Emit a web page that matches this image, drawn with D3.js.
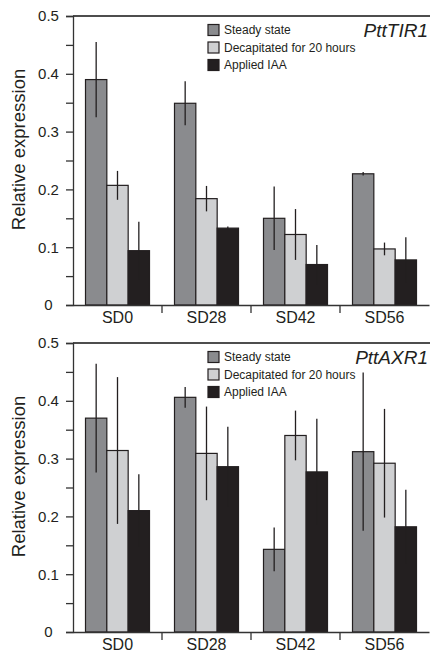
<!DOCTYPE html>
<html>
<head>
<meta charset="utf-8">
<script src="https://cdn.jsdelivr.net/npm/d3@7"></script>
<style>
  body { margin: 0; background: #fff; }
  svg { display: block; font-family: "Liberation Sans", Arial, Helvetica, sans-serif; }
</style>
</head>
<body>
<svg id="chart" width="430" height="652"></svg>
<script>
var width = 430,
    height = 652;

const categories = ["SD0", "SD28", "SD42", "SD56"];
const series = ["Steady state", "Decapitated for 20 hours", "Applied IAA"];
const colors = ["#8a8b8e", "#cfd0d2", "#231f20"];
const yTicks = [0, 0.05, 0.1, 0.15, 0.2, 0.25, 0.3, 0.35, 0.4, 0.45, 0.5];

// PttTIR1 means and errors, one array per series (SD0, SD28, SD42, SD56)
const tir1Steady = [0.390, 0.349, 0.150, 0.227];
const tir1SteadyErr = [0.065, 0.038, 0.055, 0.003];
const tir1Decap = [0.207, 0.184, 0.122, 0.097];
const tir1DecapErr = [0.025, 0.022, 0.044, 0.011];
const tir1Iaa = [0.094, 0.133, 0.070, 0.078];
const tir1IaaErr = [0.050, 0.003, 0.034, 0.039];

// PttAXR1
const axr1Steady = [0.370, 0.406, 0.143, 0.312];
const axr1SteadyErr = [0.094, 0.018, 0.038, 0.137];
const axr1Decap = [0.314, 0.309, 0.340, 0.292];
const axr1DecapErr = [0.127, 0.081, 0.043, 0.094];
const axr1Iaa = [0.210, 0.286, 0.277, 0.182];
const axr1IaaErr = [0.063, 0.069, 0.092, 0.064];

const panels = [
    { gene: "PttTIR1", top: 16, bottom: 305,
      means: [tir1Steady, tir1Decap, tir1Iaa], errs: [tir1SteadyErr, tir1DecapErr, tir1IaaErr] },
    { gene: "PttAXR1", top: 343, bottom: 632,
      means: [axr1Steady, axr1Decap, axr1Iaa], errs: [axr1SteadyErr, axr1DecapErr, axr1IaaErr] }
];

const left = 73, right = 430;
const svg = d3.select("#chart");

var x0 = d3.scaleBand().domain(categories).range([left, left + 89 * 4]);
var x1 = d3.scaleBand().domain(series).range([12.5, x0.bandwidth() - 12.5]);

panels.forEach(function (p) {
    var y = d3.scaleLinear().domain([0, 0.5]).range([p.bottom, p.top]);
    var g = svg.append("g");

    // flatten to rows
    var rows = [];
    categories.forEach(function (c, i) {
        series.forEach(function (s, j) {
            rows.push({ cat: c, s: s, j: j, v: p.means[j][i], e: p.errs[j][i] });
        });
    });

    // top frame line
    g.append("line")
        .attr("x1", left).attr("x2", right)
        .attr("y1", p.top).attr("y2", p.top)
        .attr("stroke", "#4d4d4d").attr("stroke-width", 2);

    // bars
    g.selectAll("rect.bar")
        .data(rows)
        .join("rect")
        .attr("class", "bar")
        .attr("x", function (d) { return x0(d.cat) + x1(d.s); })
        .attr("width", x1.bandwidth())
        .attr("y", function (d) { return y(d.v); })
        .attr("height", function (d) { return y(0) - y(d.v); })
        .attr("fill", function (d) { return colors[d.j]; })
        .attr("stroke", "#231f20")
        .attr("stroke-width", 1.2);

    // error bars (plain vertical line, no caps)
    g.selectAll("line.err")
        .data(rows)
        .join("line")
        .attr("class", "err")
        .attr("x1", function (d) { return x0(d.cat) + x1(d.s) + x1.bandwidth() / 2; })
        .attr("x2", function (d) { return x0(d.cat) + x1(d.s) + x1.bandwidth() / 2; })
        .attr("y1", function (d) { return y(d.v + d.e); })
        .attr("y2", function (d) { return y(Math.max(0, d.v - d.e)); })
        .attr("stroke", "#231f20")
        .attr("stroke-width", 1.3);

    // y axis
    var yAxis = g.append("g")
        .attr("transform", "translate(" + left + ",0)")
        .call(d3.axisLeft(y).tickValues(yTicks).tickSize(7)
            .tickFormat(function (d) {
                var r = Math.round(d * 100);
                if (r % 10 != 0) return "";
                return r == 0 ? "0" : d3.format(".1f")(d);
            }));
    yAxis.select(".domain").attr("stroke", "#333").attr("stroke-width", 1.3);
    yAxis.selectAll(".tick line").attr("stroke", "#333").attr("stroke-width", 1.3);
    yAxis.selectAll(".tick text")
        .attr("x", -24.5)
        .attr("text-anchor", "middle")
        .attr("font-size", 15)
        .attr("fill", "#231f20");

    // x axis with labels at band centres
    var xAxis = g.append("g")
        .attr("transform", "translate(0," + p.bottom + ")")
        .call(d3.axisBottom(x0).tickSize(0).tickPadding(7));
    xAxis.select(".domain").attr("stroke", "#333").attr("stroke-width", 1.3);
    xAxis.selectAll(".tick text")
        .attr("font-size", 16)
        .attr("fill", "#231f20");
    // separator ticks between categories
    xAxis.selectAll("line.sep")
        .data(categories.slice(1))
        .join("line")
        .attr("class", "sep")
        .attr("x1", function (d) { return x0(d); })
        .attr("x2", function (d) { return x0(d); })
        .attr("y1", 0).attr("y2", 8)
        .attr("stroke", "#333").attr("stroke-width", 1.3);

    // y axis title
    g.append("text")
        .attr("transform", "translate(25," + ((p.top + p.bottom) / 2 - 11) + ") rotate(-90)")
        .attr("text-anchor", "middle")
        .attr("font-size", 18.5)
        .attr("fill", "#231f20")
        .text("Relative expression");

    // gene name
    g.append("text")
        .attr("x", 428).attr("y", p.top + 20.5)
        .attr("text-anchor", "end")
        .attr("font-size", 19)
        .attr("font-style", "italic")
        .attr("fill", "#231f20")
        .text(p.gene);

    // legend
    var leg = g.selectAll("g.leg")
        .data(series)
        .join("g")
        .attr("class", "leg")
        .attr("transform", function (d, i) { return "translate(208," + (p.top + 14 + i * 17.5) + ")"; });
    leg.append("rect")
        .attr("x", 0).attr("y", -5.5)
        .attr("width", 11).attr("height", 11)
        .attr("fill", function (d, i) { return colors[i]; })
        .attr("stroke", "#231f20").attr("stroke-width", 1.2);
    leg.append("text")
        .attr("x", 16).attr("y", 0)
        .attr("dy", "0.35em")
        .attr("font-size", 12)
        .attr("fill", "#231f20")
        .text(function (d) { return d; });
});
</script>
</body>
</html>
